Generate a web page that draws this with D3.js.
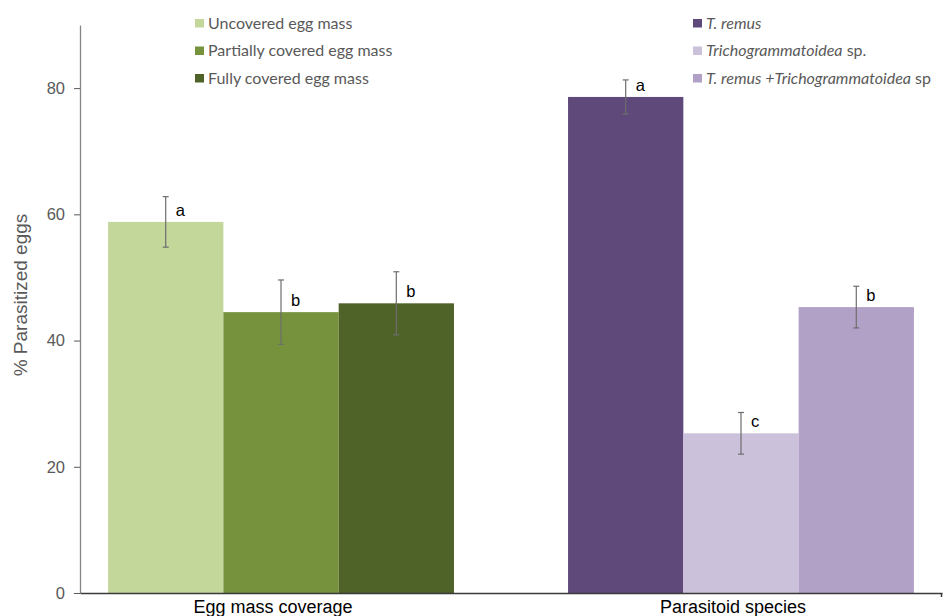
<!DOCTYPE html>
<html>
<head>
<meta charset="utf-8">
<script src="https://cdn.jsdelivr.net/npm/d3@7"></script>
<style>
  body { margin: 0; background: #fff; }
  svg { display: block; }
</style>
</head>
<body>
<svg id="chart" width="943" height="616"></svg>
<script>
// data
var groups = ["Egg mass coverage", "Parasitoid species"];

var coverageNames = ["Uncovered egg mass", "Partially covered egg mass", "Fully covered egg mass"];
var coverageMeans = [58.8, 44.5, 45.9];
var coverageErrors = [4.0, 5.1, 5.0];
var coverageLetters = ["a", "b", "b"];

var speciesNames = ["T. remus", "Trichogrammatoidea sp.", "T. remus +Trichogrammatoidea sp"];
var speciesMeans = [78.6, 25.3, 45.3];
var speciesErrors = [2.7, 3.3, 3.3];
var speciesLetters = ["a", "c", "b"];

var yTicks = [0, 20, 40, 60, 80];

var coverageColors = ["#c4d79b", "#76923c", "#4f6228"];
var speciesColors = ["#5f497a", "#ccc1da", "#b2a1c7"];

// build rows for drawing
var rows = [];
coverageNames.forEach(function(n, i) {
  rows.push({group: groups[0], idx: i, name: n, mean: coverageMeans[i], se: coverageErrors[i],
             letter: coverageLetters[i], color: coverageColors[i]});
});
speciesNames.forEach(function(n, i) {
  rows.push({group: groups[1], idx: i, name: n, mean: speciesMeans[i], se: speciesErrors[i],
             letter: speciesLetters[i], color: speciesColors[i]});
});

var svg = d3.select("#chart"),
  margin = {top: 25, right: 1, bottom: 23, left: 80},
  width = +svg.attr("width"),
  height = +svg.attr("height");

var x0 = d3.scaleBand()
  .domain(groups)
  .range([margin.left, width - margin.right])
  .paddingInner(0.248)
  .paddingOuter(0.061);

var x1 = d3.scaleBand()
  .domain([0, 1, 2])
  .range([0, x0.bandwidth()]);

var y = d3.scaleLinear()
  .domain([0, 90])
  .range([height - margin.bottom, margin.top]);

// bars
svg.append("g")
  .selectAll("rect")
  .data(rows)
  .enter()
  .append("rect")
  .attr("x", function(d) { return x0(d.group) + x1(d.idx); })
  .attr("y", function(d) { return y(d.mean); })
  .attr("width", x1.bandwidth())
  .attr("height", function(d) { return y(0) - y(d.mean); })
  .attr("fill", function(d) { return d.color; });

// error bars
var err = svg.append("g")
  .attr("stroke", "#6d6d6d")
  .attr("stroke-width", 1.2)
  .selectAll("g")
  .data(rows)
  .enter()
  .append("g")
  .attr("transform", function(d) {
    return "translate(" + (x0(d.group) + x1(d.idx) + x1.bandwidth() / 2) + ",0)";
  });
err.append("line")
  .attr("y1", function(d) { return y(d.mean + d.se); })
  .attr("y2", function(d) { return y(d.mean - d.se); });
err.append("line")
  .attr("x1", -3).attr("x2", 3)
  .attr("y1", function(d) { return y(d.mean + d.se); })
  .attr("y2", function(d) { return y(d.mean + d.se); });
err.append("line")
  .attr("x1", -3).attr("x2", 3)
  .attr("y1", function(d) { return y(d.mean - d.se); })
  .attr("y2", function(d) { return y(d.mean - d.se); });

// significance letters
svg.append("g")
  .selectAll("text")
  .data(rows)
  .enter()
  .append("text")
  .attr("x", function(d) { return x0(d.group) + x1(d.idx) + x1.bandwidth() / 2 + 10; })
  .attr("y", function(d) { return y(d.mean) - 6; })
  .attr("font-family", "Liberation Sans, Arial, sans-serif")
  .attr("font-size", 16.5)
  .attr("fill", "#000")
  .text(function(d) { return d.letter; });

// y axis
var yAxis = svg.append("g")
  .attr("transform", "translate(" + margin.left + ",0)")
  .call(d3.axisLeft(y).tickValues(yTicks).tickSize(6).tickSizeOuter(0).tickPadding(9));
yAxis.select(".domain").attr("stroke", "#868686").attr("stroke-width", 1.3);
yAxis.selectAll(".tick line").attr("stroke", "#595959");
yAxis.selectAll(".tick text")
  .attr("font-family", "Liberation Sans, Arial, sans-serif")
  .attr("font-size", 16.5)
  .attr("fill", "#595959");

svg.append("text")
  .attr("transform", "translate(27," + ((y(0) + y(90)) / 2 - 14) + ") rotate(-90)")
  .attr("text-anchor", "middle")
  .attr("font-family", "Liberation Sans, Arial, sans-serif")
  .attr("font-size", 19)
  .attr("fill", "#595959")
  .text("% Parasitized eggs");

// x axis
var xAxis = svg.append("g")
  .attr("transform", "translate(0," + y(0) + ")")
  .call(d3.axisBottom(x0).tickSize(0).tickSizeOuter(0).tickPadding(0));
xAxis.select(".domain").attr("stroke", "#3a3a3a").attr("stroke-width", 1.5);
xAxis.selectAll(".tick text")
  .attr("font-family", "Liberation Sans, Arial, sans-serif")
  .attr("font-size", 18)
  .attr("fill", "#000")
  .attr("dy", 0)
  .attr("y", 20)
  .attr("x", -8);
xAxis.append("line")
  .attr("x1", width - margin.right - 0.5)
  .attr("x2", width - margin.right - 0.5)
  .attr("y1", 0)
  .attr("y2", 4)
  .attr("stroke", "#3a3a3a")
  .attr("stroke-width", 1.5);

// legends
function drawLegend(names, colors, lx, italics) {
  var lg = svg.append("g")
    .attr("transform", "translate(" + lx + ",19)");
  var item = lg.selectAll("g")
    .data(names)
    .enter()
    .append("g")
    .attr("transform", function(d, i) { return "translate(0," + (i * 27.5) + ")"; });
  item.append("rect")
    .attr("width", 9)
    .attr("height", 8.5)
    .attr("fill", function(d, i) { return colors[i]; });
  var t = item.append("text")
    .attr("x", 13)
    .attr("y", 9.5)
    .attr("font-family", "Lato, Open Sans, sans-serif")
    .attr("font-size", 16)
    .attr("fill", "#595959");
  t.each(function(d, i) {
    var el = d3.select(this);
    italics[i].forEach(function(part) {
      el.append("tspan")
        .attr("font-style", part[1] ? "italic" : "normal")
        .text(part[0]);
    });
  });
}

drawLegend(coverageNames, coverageColors, 195, coverageNames.map(function(n) { return [[n, false]]; }));
drawLegend(speciesNames, speciesColors, 693, [
  [["T. remus", true]],
  [["Trichogrammatoidea", true], [" sp.", false]],
  [["T. remus +Trichogrammatoidea", true], [" sp", false]]
]);
</script>
</body>
</html>
